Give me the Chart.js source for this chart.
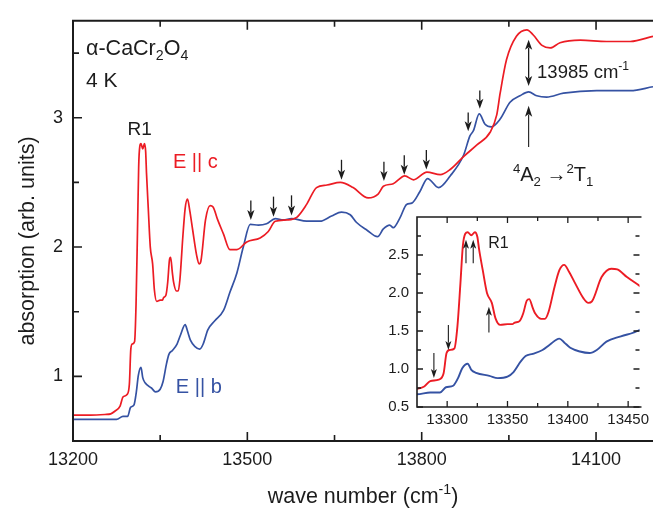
<!DOCTYPE html>
<html lang="en">
<head>
<meta charset="UTF-8">
<title>alpha-CaCr2O4 absorption 4 K</title>
<script src="https://cdn.jsdelivr.net/npm/chart.js"></script>
<style>
  body { margin: 0; background: #fff; }
  #wrap { position: relative; width: 653px; height: 509px; overflow: hidden; }
  #mainChart { position: absolute; left: 0; top: 0; }
  #insetChart { position: absolute; left: 370px; top: 200px; }
</style>
</head>
<body>
<div id="wrap">
  <canvas id="mainChart" width="653" height="509"></canvas>
  <canvas id="insetChart" width="283" height="237"></canvas>
</div>
<script>
// E || c spectrum (red), wave number in cm-1
const waveC = [13200, 13230, 13255, 13265, 13272, 13281, 13286, 13293, 13297, 13299.5, 13302, 13306, 13308.5, 13311,
  13313, 13315, 13317, 13320, 13323, 13325, 13326.5, 13329.5, 13333, 13337, 13340, 13344, 13350, 13354, 13356, 13360,
  13363, 13366, 13368, 13371, 13373, 13378, 13381, 13384, 13389, 13393, 13397, 13401, 13406, 13413, 13417, 13420,
  13428, 13436, 13441, 13449, 13459, 13470, 13482, 13499, 13522, 13536, 13548, 13568, 13585, 13602, 13619, 13637,
  13660, 13682, 13708, 13725, 13734, 13751, 13771, 13786, 13809, 13832, 13849, 13872, 13895, 13918, 13929, 13935,
  13946, 13963, 13981, 13992, 14007, 14021, 14038, 14073, 14118, 14159, 14198];
const absC = [0.70, 0.70, 0.705, 0.71, 0.73, 0.77, 0.84, 0.86, 0.94, 1.21, 1.25, 1.27, 1.56, 2.13,
  2.62, 2.78, 2.80, 2.76, 2.80, 2.74, 2.57, 2.30, 2.00, 1.87, 1.67, 1.58, 1.59, 1.59, 1.61, 1.63,
  1.73, 1.90, 1.92, 1.80, 1.73, 1.66, 1.66, 1.75, 2.08, 2.30, 2.37, 2.28, 2.13, 1.93, 1.87, 1.89,
  2.21, 2.32, 2.31, 2.21, 2.10, 1.98, 1.98, 2.04, 2.07, 2.12, 2.20, 2.21, 2.23, 2.33, 2.46, 2.48,
  2.50, 2.46, 2.38, 2.41, 2.47, 2.49, 2.55, 2.52, 2.58, 2.56, 2.60, 2.70, 2.79, 2.89, 3.02, 3.19,
  3.45, 3.63, 3.68, 3.64, 3.56, 3.54, 3.58, 3.60, 3.59, 3.59, 3.63];

// E || b spectrum (blue)
const waveB = [13200, 13250, 13275, 13286, 13294, 13299, 13305, 13309, 13312.5, 13317, 13320, 13324, 13335, 13342,
  13350, 13355, 13361, 13365, 13371, 13379, 13385, 13393, 13397, 13402, 13410, 13418, 13424, 13432, 13444, 13459,
  13470, 13482, 13493, 13505, 13519, 13533, 13548, 13562, 13576, 13602, 13625, 13645, 13662, 13677, 13688, 13706,
  13724, 13734, 13745, 13751, 13763, 13774, 13783, 13797, 13810, 13829, 13849, 13872, 13883, 13889, 13899, 13909,
  13920, 13935, 13952, 13969, 13984, 13998, 14015, 14044, 14101, 14159, 14198];
const absB = [0.667, 0.667, 0.667, 0.69, 0.69, 0.76, 0.78, 0.88, 1.01, 1.07, 0.99, 0.95, 0.91, 0.88,
  0.90, 0.96, 1.10, 1.17, 1.20, 1.25, 1.32, 1.40, 1.35, 1.28, 1.23, 1.21, 1.25, 1.36, 1.43, 1.51,
  1.65, 1.80, 2.00, 2.175, 2.17, 2.18, 2.22, 2.21, 2.22, 2.20, 2.20, 2.24, 2.27, 2.25, 2.19, 2.13,
  2.08, 2.14, 2.17, 2.15, 2.23, 2.33, 2.34, 2.43, 2.53, 2.46, 2.55, 2.71, 2.86, 2.90, 3.03, 2.95,
  2.93, 2.99, 3.12, 3.17, 3.20, 3.17, 3.16, 3.19, 3.21, 3.21, 3.24];

// tick values
const mainXTicks = [13200, 13500, 13800, 14100];
const mainXMinor = [13350, 13650, 13950];
const mainYTicks = [1, 2, 3];
const mainYMinor = [1.5, 2.5, 3.5];
const insetXTicks = [13300, 13350, 13400, 13450];
const insetXMinor = [13325, 13375, 13425];
const insetYTicks = [0.5, 1.0, 1.5, 2.0, 2.5];
const insetYMinor = [0.75, 1.25, 1.75, 2.25, 2.75];

// marked features: [wave number, tail, tip]
const mainArrows = [[13506, 2.36, 2.21], [13545, 2.39, 2.235], [13576, 2.40, 2.245], [13662, 2.675, 2.52],
  [13735, 2.66, 2.51], [13770, 2.71, 2.56], [13808, 2.75, 2.60], [13880, 3.04, 2.895], [13900, 3.21, 3.07]];
const insetArrows = [[13289, 1.21, 0.88], [13301, 1.58, 1.25], [13315.6, 2.39, 2.70], [13321.6, 2.39, 2.70], [13334.6, 1.48, 1.82]];

const red = '#ec1c24';
const blue = '#3552a3';
const ink = '#1c1c1c';
const family = '"Liberation Sans", Arial, sans-serif';

function toPoints(xs, ys) {
  return xs.map((x, i) => ({ x: x, y: ys[i] }));
}

function arrow(ctx, x, y0, y1, head, half, lw, both) {
  const dir = y1 > y0 ? 1 : -1;
  ctx.lineWidth = lw;
  ctx.beginPath();
  ctx.moveTo(x, both ? y0 + dir * head * 0.8 : y0);
  ctx.lineTo(x, y1 - dir * head * 0.8);
  ctx.stroke();
  const tri = (ty, d) => {
    ctx.beginPath();
    ctx.moveTo(x, ty);
    ctx.lineTo(x - half, ty - d * head);
    ctx.lineTo(x, ty - d * head * 0.75);
    ctx.lineTo(x + half, ty - d * head);
    ctx.closePath();
    ctx.fill();
  };
  tri(y1, dir);
  if (both) tri(y0, -dir);
}

// parts: [text, 0 normal | 1 subscript | -1 superscript]
function richText(ctx, x, y, parts, size, color, align) {
  ctx.save();
  ctx.fillStyle = color;
  ctx.textBaseline = 'alphabetic';
  ctx.textAlign = 'left';
  const small = size * 0.66;
  let w = 0;
  parts.forEach(p => {
    ctx.font = (p[1] ? small : size) + 'px ' + family;
    w += ctx.measureText(p[0]).width;
  });
  let cx = align === 'center' ? x - w / 2 : x;
  parts.forEach(p => {
    ctx.font = (p[1] ? small : size) + 'px ' + family;
    const dy = p[1] === 1 ? size * 0.24 : p[1] === -1 ? -size * 0.42 : 0;
    ctx.fillText(p[0], cx, y + dy);
    cx += ctx.measureText(p[0]).width;
  });
  ctx.restore();
}

function framePlugin(opts) {
  return {
    id: 'frame' + opts.name,
    beforeDraw(chart) {
      if (!opts.fill) return;
      const a = chart.chartArea;
      chart.ctx.save();
      chart.ctx.fillStyle = '#fff';
      chart.ctx.fillRect(a.left, a.top, a.right - a.left + 2, a.bottom - a.top);
      chart.ctx.restore();
    },
    afterDraw(chart) {
      const ctx = chart.ctx, a = chart.chartArea;
      const xs = chart.scales.x, ys = chart.scales.y;
      ctx.save();
      ctx.strokeStyle = ink;
      ctx.lineWidth = opts.lw;
      ctx.beginPath();
      ctx.moveTo(a.right + 2, a.top);
      ctx.lineTo(a.left, a.top);
      ctx.lineTo(a.left, a.bottom);
      ctx.lineTo(a.right + 2, a.bottom);
      ctx.stroke();
      ctx.lineWidth = opts.lw * 0.8;
      ctx.beginPath();
      const xt = (vals, len) => vals.forEach(v => {
        const p = xs.getPixelForValue(v);
        ctx.moveTo(p, a.bottom); ctx.lineTo(p, a.bottom - len);
        ctx.moveTo(p, a.top); ctx.lineTo(p, a.top + len);
      });
      const yt = (vals, len) => vals.forEach(v => {
        const p = ys.getPixelForValue(v);
        ctx.moveTo(a.left, p); ctx.lineTo(a.left + len, p);
        if (opts.rightTicks) { ctx.moveTo(a.right, p); ctx.lineTo(a.right - len, p); }
      });
      xt(opts.xMajor, opts.major); xt(opts.xMinor, opts.minor);
      yt(opts.yMajor, opts.major); yt(opts.yMinor, opts.minor);
      ctx.stroke();
      ctx.restore();
    }
  };
}

const mainNotes = {
  id: 'mainNotes',
  afterDraw(chart) {
    const ctx = chart.ctx, xs = chart.scales.x, ys = chart.scales.y;
    const X = v => xs.getPixelForValue(v), Y = v => ys.getPixelForValue(v);
    ctx.save();
    ctx.strokeStyle = ink; ctx.fillStyle = ink;
    mainArrows.forEach(a => arrow(ctx, X(a[0]), Y(a[1]), Y(a[2]), 10, 3.6, 1.3));
    arrow(ctx, X(13984), Y(3.245), Y(3.603), 10, 3.6, 1.3, true);
    arrow(ctx, X(13984), Y(2.774), Y(3.093), 11, 3.6, 1.1);
    ctx.restore();

    richText(ctx, X(13222.4), Y(3.485), [['\u03b1-CaCr', 0], ['2', 1], ['O', 0], ['4', 1]], 21.5, ink);
    richText(ctx, X(13222.4), Y(3.238), [['4 K', 0]], 21, ink);
    richText(ctx, X(13314.8), Y(2.865), [['R1', 0]], 19, ink, 'center');
    richText(ctx, X(13372), Y(2.612), [['E || c', 0]], 20, red);
    richText(ctx, X(13377), Y(0.875), [['E || b', 0]], 20, blue);
    richText(ctx, X(13998.5), Y(3.308), [['13985 cm', 0], ['-1', -1]], 18.5, ink);
    richText(ctx, X(13957), Y(2.51), [['4', -1], ['A', 0], ['2', 1], [' \u2192', 0], ['2', -1], ['T', 0], ['1', 1]], 20, ink);

    // axis titles
    const a = chart.chartArea;
    richText(ctx, (a.left + a.right) / 2, 503, [['wave number (cm', 0], ['-1', -1], [')', 0]], 21.5, ink, 'center');
    ctx.save();
    ctx.translate(34, 241);
    ctx.rotate(-Math.PI / 2);
    richText(ctx, 0, 0, [['absorption (arb. units)', 0]], 21.5, ink, 'center');
    ctx.restore();
  }
};

const insetNotes = {
  id: 'insetNotes',
  afterDraw(chart) {
    const ctx = chart.ctx, xs = chart.scales.x, ys = chart.scales.y;
    const X = v => xs.getPixelForValue(v), Y = v => ys.getPixelForValue(v);
    ctx.save();
    ctx.strokeStyle = ink; ctx.fillStyle = ink;
    insetArrows.forEach(a => arrow(ctx, X(a[0]), Y(a[1]), Y(a[2]), 9, 3, 1.1));
    ctx.restore();
    richText(ctx, X(13334), Y(2.59), [['R1', 0]], 16, ink);
  }
};

const tickFont = size => ({ family: family, size: size });

new Chart(document.getElementById('mainChart'), {
  type: 'line',
  data: {
    datasets: [
      { label: 'E || c', data: toPoints(waveC, absC), borderColor: red, borderWidth: 1.7, pointRadius: 0, cubicInterpolationMode: 'monotone' },
      { label: 'E || b', data: toPoints(waveB, absB), borderColor: blue, borderWidth: 1.7, pointRadius: 0, cubicInterpolationMode: 'monotone' }
    ]
  },
  options: {
    responsive: false,
    animation: false,
    devicePixelRatio: 1,
    layout: { padding: { top: 13, left: 0, right: 0, bottom: 0 } },
    plugins: { legend: { display: false }, tooltip: { enabled: false } },
    scales: {
      x: {
        type: 'linear', min: 13200, max: 14198,
        grid: { display: false, drawTicks: false }, border: { display: false },
        afterBuildTicks: s => { s.ticks = mainXTicks.map(v => ({ value: v })); },
        afterFit: s => { s.height = 68; },
        ticks: { padding: 8, color: ink, font: tickFont(18), maxRotation: 0, autoSkip: false, callback: v => String(v) }
      },
      y: {
        type: 'linear', min: 0.5, max: 3.75,
        grid: { display: false, drawTicks: false }, border: { display: false },
        afterBuildTicks: s => { s.ticks = mainYTicks.map(v => ({ value: v })); },
        afterFit: s => { s.width = 73; },
        ticks: { padding: 10, color: ink, font: tickFont(18), autoSkip: false, callback: v => String(v) }
      }
    }
  },
  plugins: [framePlugin({ name: 'Main', lw: 2, major: 9, minor: 6, xMajor: mainXTicks, xMinor: mainXMinor,
    yMajor: mainYTicks, yMinor: mainYMinor, rightTicks: false, fill: false }), mainNotes]
});

new Chart(document.getElementById('insetChart'), {
  type: 'line',
  data: {
    datasets: [
      { label: 'E || c', data: toPoints(waveC, absC), borderColor: red, borderWidth: 1.9, pointRadius: 0, cubicInterpolationMode: 'monotone' },
      { label: 'E || b', data: toPoints(waveB, absB), borderColor: blue, borderWidth: 1.9, pointRadius: 0, cubicInterpolationMode: 'monotone' }
    ]
  },
  options: {
    responsive: false,
    animation: false,
    devicePixelRatio: 1,
    layout: { padding: { top: 17, left: 0, right: 0, bottom: 0 } },
    plugins: { legend: { display: false }, tooltip: { enabled: false } },
    scales: {
      x: {
        type: 'linear', min: 13275, max: 13459.4,
        grid: { display: false, drawTicks: false }, border: { display: false },
        afterBuildTicks: s => { s.ticks = insetXTicks.map(v => ({ value: v })); },
        afterFit: s => { s.height = 30; },
        ticks: { padding: 4, color: ink, font: tickFont(15), maxRotation: 0, autoSkip: false, callback: v => String(v) }
      },
      y: {
        type: 'linear', min: 0.5, max: 3.0,
        grid: { display: false, drawTicks: false }, border: { display: false },
        afterBuildTicks: s => { s.ticks = insetYTicks.map(v => ({ value: v })); },
        afterFit: s => { s.width = 47; },
        ticks: { padding: 8, color: ink, font: tickFont(15), autoSkip: false, callback: v => v.toFixed(1) }
      }
    }
  },
  plugins: [framePlugin({ name: 'Inset', lw: 1.6, major: 6, minor: 4, xMajor: insetXTicks, xMinor: insetXMinor,
    yMajor: insetYTicks, yMinor: insetYMinor, rightTicks: true, fill: true }), insetNotes]
});
</script>
</body>
</html>
